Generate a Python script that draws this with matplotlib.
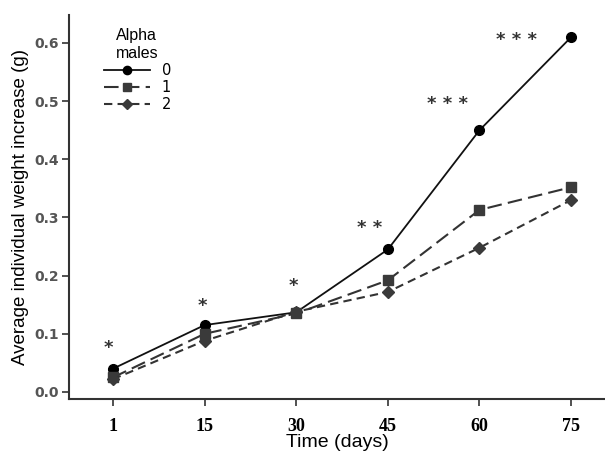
import numpy as np
import matplotlib.pyplot as plt

days = ["1", "15", "30", "45", "60", "75"]
groups = ["0", "1", "2"]
weight_0 = [0.040, 0.115, 0.137, 0.245, 0.450, 0.610]
weight_1 = [0.025, 0.100, 0.135, 0.192, 0.313, 0.352]
weight_2 = [0.022, 0.088, 0.138, 0.172, 0.248, 0.330]
stars = ["*", "*", "*", "**", "***", "***"]
star_y = [0.075, 0.148, 0.182, 0.282, 0.495, 0.605]
star_dx = [-0.05, -0.02, -0.03, -0.2, -0.35, -0.6]

fig = plt.figure(figsize=(6.05, 4.57), dpi=100)
ax = fig.add_axes([0.114, 0.127, 0.886, 0.840])

x = np.arange(len(days))
ax.plot(x, weight_0, color="#111111", lw=1.3, ls="-", marker="o", ms=7,
        mfc="black", mec="black", label=groups[0])
ax.plot(x, weight_1, color="#333333", lw=1.5, ls=(0, (7, 3)), marker="s", ms=6.5,
        mfc="#3a3a3a", mec="#3a3a3a", label=groups[1])
ax.plot(x, weight_2, color="#333333", lw=1.5, ls=(0, (4, 2.5)), marker="D", ms=6.5,
        mfc="#3a3a3a", mec="#3a3a3a", label=groups[2])

for xi, s, yy, dx in zip(x, stars, star_y, star_dx):
    ax.text(xi + dx, yy, " ".join(s), ha="center", va="center", fontsize=13,
            color="#333333", family="DejaVu Sans", fontweight="bold")

ax.set_xlim(-0.48, 5.37)
ax.set_ylim(-0.012, 0.648)
ax.set_xticks(x)
ax.set_xticklabels(days, fontsize=13, fontweight="bold", family="Liberation Serif")
ax.set_yticks([0.0, 0.1, 0.2, 0.3, 0.4, 0.5, 0.6])
ax.set_yticklabels(["0.0", "0.1", "0.2", "0.3", "0.4", "0.5", "0.6"],
                   fontsize=10, fontweight="bold", color="#555555", family="DejaVu Sans")
ax.tick_params(axis="both", length=5, width=1.2, color="#333333")
ax.tick_params(axis="x", pad=9)
ax.tick_params(axis="y", pad=2)

for side in ["top", "right"]:
    ax.spines[side].set_visible(False)
for side in ["left", "bottom"]:
    ax.spines[side].set_linewidth(1.5)
    ax.spines[side].set_color("#333333")

ax.set_ylabel("Average individual weight increase (g)", fontsize=13.5, family="Liberation Sans")
ax.set_xlabel("Time (days)", fontsize=14, family="Liberation Sans", labelpad=-1)

leg = ax.legend(title="Alpha\nmales", loc="upper left", bbox_to_anchor=(0.04, 1.0),
                frameon=False, handlelength=3.2, fontsize=10.5, labelspacing=0.15,
                handletextpad=0.8, markerscale=0.85,
                title_fontproperties={"family": "Liberation Sans", "size": 11.5})
leg._legend_box.align = "center"

fig.savefig("out.png", dpi=100)
